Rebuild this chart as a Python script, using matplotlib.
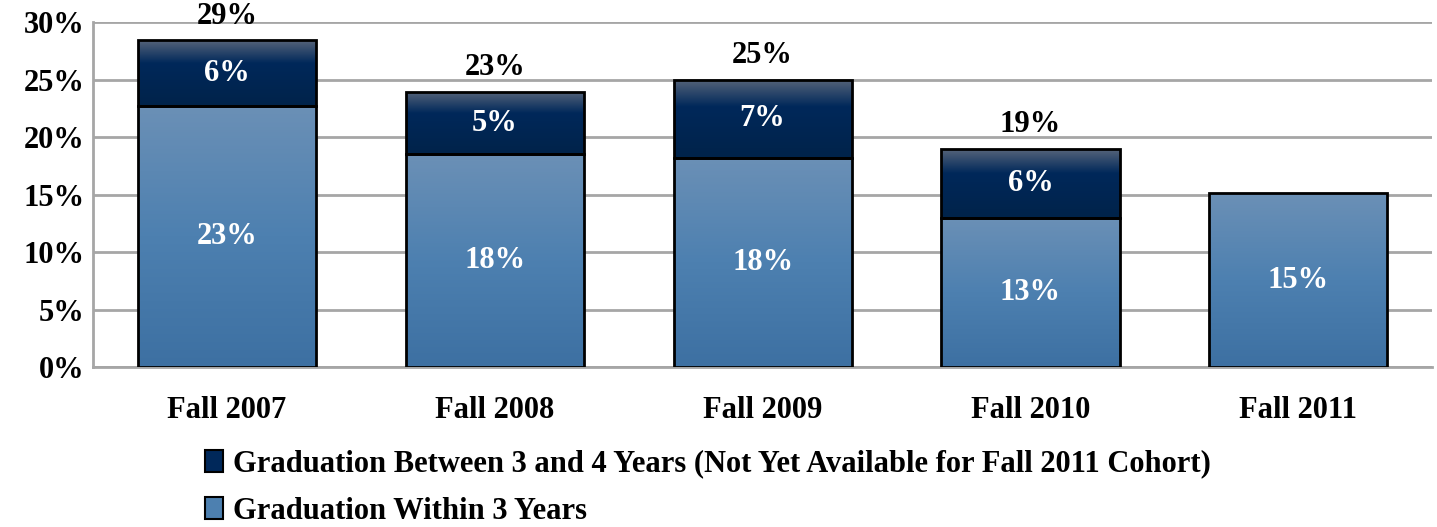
import numpy as np
import matplotlib
matplotlib.use("Agg")
import matplotlib.pyplot as plt
from matplotlib.colors import LinearSegmentedColormap
from matplotlib.patches import Patch

# data (percent)
cohorts = ["Fall 2007", "Fall 2008", "Fall 2009", "Fall 2010", "Fall 2011"]
within3 = [22.7, 18.5, 18.2, 13.0, 15.1]
between3_4 = [5.7, 5.4, 6.8, 6.0, 0.0]
within3_labels = ["23%", "18%", "18%", "13%", "15%"]
between_labels = ["6%", "5%", "7%", "6%", ""]
total_labels = ["29%", "23%", "25%", "19%", ""]

plt.rcParams["font.family"] = ["Liberation Serif", "DejaVu Serif"]
plt.rcParams["font.weight"] = "bold"
FS = 22

fig = plt.figure(figsize=(14.37, 5.27), dpi=100)
ax = fig.add_axes([0.0647, 0.3036, 0.932, 0.6546])

x = np.arange(len(cohorts))
light_cmap = LinearSegmentedColormap.from_list("light", ["#6b90b6", "#4d80b0", "#3d70a2"])
dark_cmap = LinearSegmentedColormap.from_list("dark", [(0, "#56647a"), (0.35, "#00285a"), (1, "#00234a")])


def gradient_fill(bars, cmap):
    grad = np.linspace(0, 1, 256).reshape(-1, 1)
    for b in bars:
        if b.get_height() <= 0:
            b.set_visible(False)
            continue
        x0, y0 = b.get_x(), b.get_y()
        w, h = b.get_width(), b.get_height()
        # row 0 (value 0 -> light end) goes to the top of the bar
        im = ax.imshow(grad, cmap=cmap, aspect="auto", extent=[x0, x0 + w, y0, y0 + h],
                       zorder=b.get_zorder() - 0.1, origin="upper")
        im.set_clip_path(b)
        b.set_facecolor("none")


bars1 = ax.bar(x, within3, width=0.665, edgecolor="black", linewidth=2, zorder=3)
bars2 = ax.bar(x, between3_4, width=0.665, bottom=within3, edgecolor="black", linewidth=2, zorder=3)
gradient_fill(bars1, light_cmap)
gradient_fill(bars2, dark_cmap)

for i in range(len(cohorts)):
    ax.text(x[i], within3[i] / 2, within3_labels[i], ha="center", va="center",
            color="white", fontsize=FS, fontweight="bold", zorder=5)
    if between3_4[i] > 0:
        ax.text(x[i], within3[i] + between3_4[i] / 2, between_labels[i], ha="center", va="center",
                color="white", fontsize=FS, fontweight="bold", zorder=5)
        ax.annotate(total_labels[i], (x[i], within3[i] + between3_4[i]), xytext=(0, 7),
                    textcoords="offset points", ha="center", va="bottom",
                    fontsize=FS, fontweight="bold", zorder=5, annotation_clip=False)

ax.set_xlim(-0.5, 4.5)
ax.set_ylim(0, 30)
ax.set_yticks(np.arange(0, 31, 5))
ax.set_yticklabels([f"{v}%" for v in range(0, 31, 5)])
ax.set_xticks(x)
ax.set_xticklabels(cohorts)
ax.tick_params(axis="both", length=0, labelsize=FS)
ax.tick_params(axis="x", pad=21)
ax.tick_params(axis="y", pad=6)
ax.yaxis.grid(True, color="#a6a6a6", linewidth=2, zorder=0)
ax.set_axisbelow(True)
for s in ["top", "right"]:
    ax.spines[s].set_visible(False)
for s in ["left", "bottom"]:
    ax.spines[s].set_color("#a6a6a6")
    ax.spines[s].set_linewidth(2)

handles = [Patch(facecolor="#00285a", edgecolor="black", linewidth=1.5),
           Patch(facecolor="#4d80b0", edgecolor="black", linewidth=1.5)]
labels = ["Graduation Between 3 and 4 Years (Not Yet Available for Fall 2011 Cohort)",
          "Graduation Within 3 Years"]
fig.legend(handles, labels, loc="upper left", bbox_to_anchor=(0.1427, 0.147), frameon=False,
           fontsize=FS, handlelength=0.6, handleheight=0.75, handletextpad=0.3,
           labelspacing=0.6, borderaxespad=0, borderpad=0)

fig.savefig("out.png", dpi=100)
